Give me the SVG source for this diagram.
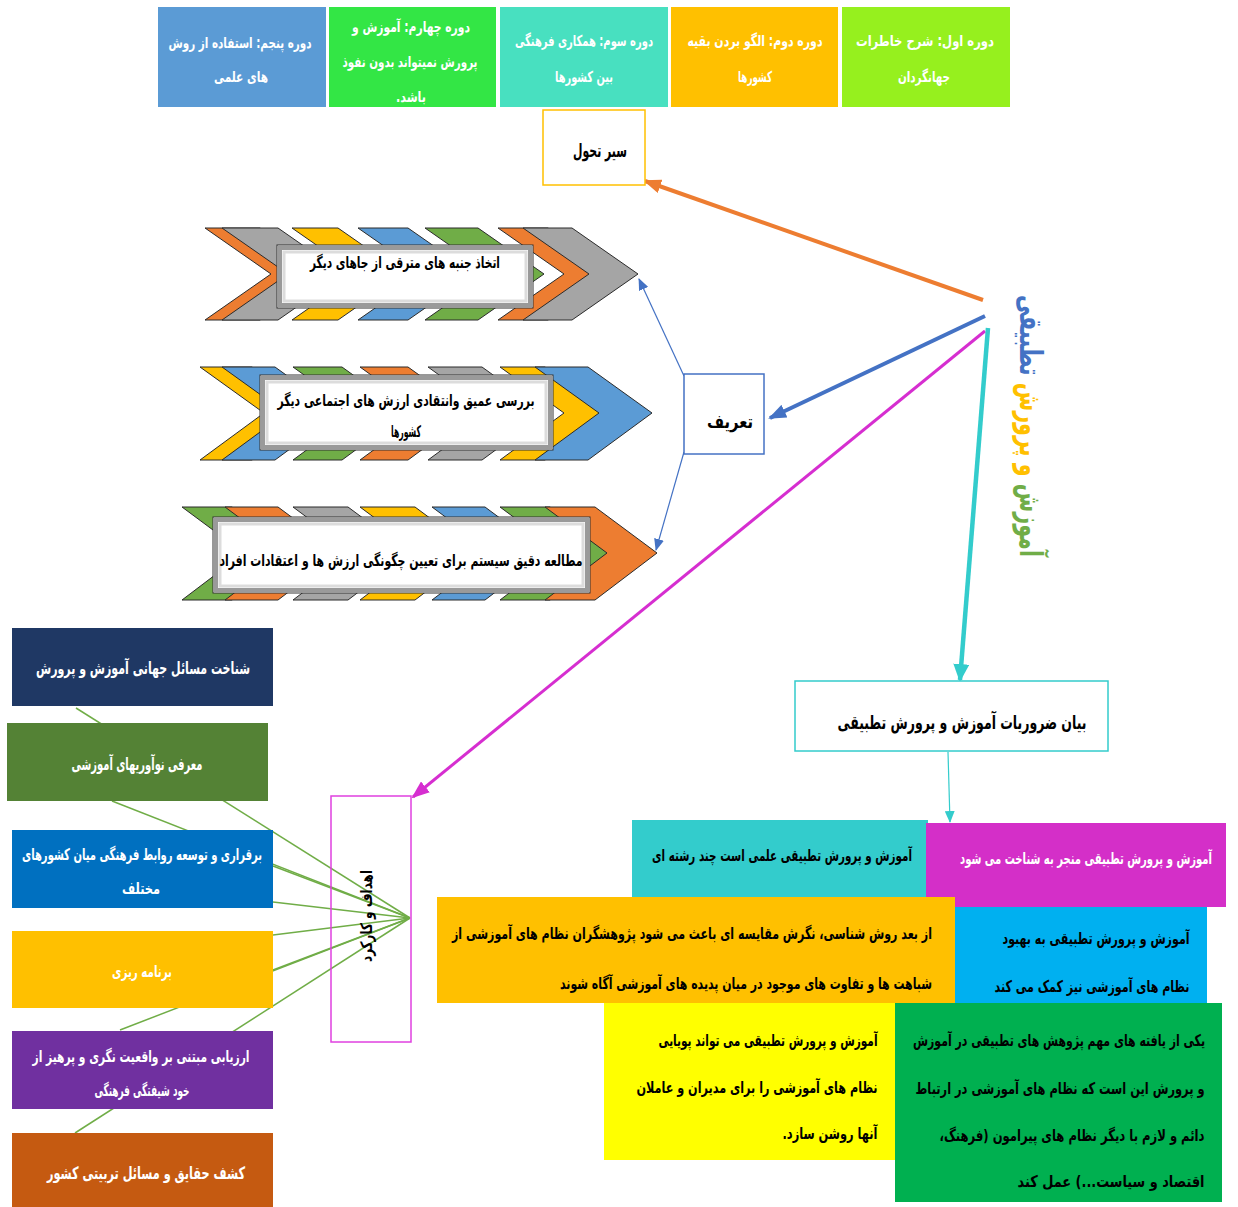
<svg xmlns="http://www.w3.org/2000/svg" width="1238" height="1207" viewBox="0 0 1238 1207">
<style>
text{font-family:"DejaVu Sans","Noto Sans",sans-serif;font-weight:bold;text-anchor:middle;direction:rtl}
.w{fill:#fff}
.k{fill:#000}
.band{stroke:#2b2b2b;stroke-width:1}
.og{fill:#ED7D31}.gy{fill:#A5A5A5}.yl{fill:#FFC000}.bl{fill:#5B9BD5}.gr{fill:#70AD47}
.gl{stroke:#70AD47;stroke-width:1.5;fill:none}
</style>
<defs>
<marker id="mo" markerUnits="userSpaceOnUse" markerWidth="18" markerHeight="14" refX="16" refY="7" orient="auto"><path d="M0,0 L18,7 L0,14 z" fill="#ED7D31"/></marker>
<marker id="mb" markerUnits="userSpaceOnUse" markerWidth="18" markerHeight="14" refX="16" refY="7" orient="auto"><path d="M0,0 L18,7 L0,14 z" fill="#4472C4"/></marker>
<marker id="mm" markerUnits="userSpaceOnUse" markerWidth="18" markerHeight="14" refX="16" refY="7" orient="auto"><path d="M0,0 L18,7 L0,14 z" fill="#D62ED0"/></marker>
<marker id="mt" markerUnits="userSpaceOnUse" markerWidth="18" markerHeight="16" refX="16" refY="8" orient="auto"><path d="M0,0 L18,8 L0,16 z" fill="#33CCCC"/></marker>
<marker id="mbs" markerUnits="userSpaceOnUse" markerWidth="12" markerHeight="10" refX="11" refY="5" orient="auto"><path d="M0,0 L12,5 L0,10 z" fill="#4472C4"/></marker>
<marker id="mts" markerUnits="userSpaceOnUse" markerWidth="12" markerHeight="10" refX="11" refY="5" orient="auto"><path d="M0,0 L12,5 L0,10 z" fill="#33CCCC"/></marker>
</defs>

<g id="connectors">
<line x1="983" y1="300" x2="645" y2="181" stroke="#ED7D31" stroke-width="4" marker-end="url(#mo)"/>
<line x1="985" y1="316" x2="770" y2="418" stroke="#4472C4" stroke-width="4" marker-end="url(#mb)"/>
<line x1="985" y1="331" x2="413" y2="797" stroke="#D62ED0" stroke-width="3" marker-end="url(#mm)"/>
<line x1="988" y1="328" x2="960" y2="680" stroke="#33CCCC" stroke-width="4.5" marker-end="url(#mt)"/>
<line x1="684" y1="376" x2="639" y2="279" stroke="#4472C4" stroke-width="1.2" marker-end="url(#mbs)"/>
<line x1="684" y1="452" x2="656" y2="550" stroke="#4472C4" stroke-width="1.2" marker-end="url(#mbs)"/>
<line x1="948" y1="752" x2="950" y2="822" stroke="#33CCCC" stroke-width="1.2" marker-end="url(#mts)"/>
<line class="gl" x1="410" y1="918" x2="76" y2="708"/>
<line class="gl" x1="410" y1="918" x2="112" y2="801"/>
<line class="gl" x1="410" y1="918" x2="273" y2="866"/>
<line class="gl" x1="410" y1="918" x2="273" y2="902"/>
<line class="gl" x1="410" y1="918" x2="273" y2="935"/>
<line class="gl" x1="410" y1="918" x2="273" y2="970"/>
<line class="gl" x1="410" y1="918" x2="120" y2="1030"/>
<line class="gl" x1="410" y1="918" x2="75" y2="1133"/>
</g>

<g id="period5"><rect x="158" y="7" width="168" height="100" fill="#5B9BD5"/>
<text class="w" font-size="15" x="240" y="48" textLength="143" lengthAdjust="spacingAndGlyphs">دوره پنجم: استفاده از روش</text>
<text class="w" font-size="15" x="241" y="82" textLength="54" lengthAdjust="spacingAndGlyphs">های علمی</text></g>
<g id="period4"><rect x="329" y="7" width="167" height="100" fill="#33E645"/>
<text class="w" font-size="15" x="411" y="32" textLength="118" lengthAdjust="spacingAndGlyphs">دوره چهارم: آموزش و</text>
<text class="w" font-size="15" x="410" y="67" textLength="135" lengthAdjust="spacingAndGlyphs">پرورش نمیتواند بدون نفوذ</text>
<text class="w" font-size="15" x="411" y="102" textLength="30" lengthAdjust="spacingAndGlyphs">باشد.</text></g>
<g id="period3"><rect x="500" y="7" width="168" height="100" fill="#48E0C0"/>
<text class="w" font-size="15" x="584" y="46" textLength="138" lengthAdjust="spacingAndGlyphs">دوره سوم: همکاری فرهنگی</text>
<text class="w" font-size="15" x="584" y="82" textLength="58" lengthAdjust="spacingAndGlyphs">بین کشورها</text></g>
<g id="period2"><rect x="671" y="7" width="167" height="100" fill="#FFC000"/>
<text class="w" font-size="15" x="755" y="46" textLength="135" lengthAdjust="spacingAndGlyphs">دوره دوم: الگو بردن بقیه</text>
<text class="w" font-size="15" x="755" y="82" textLength="34" lengthAdjust="spacingAndGlyphs">کشورها</text></g>
<g id="period1"><rect x="842" y="7" width="168" height="100" fill="#96F01E"/>
<text class="w" font-size="15" x="925" y="46" textLength="138" lengthAdjust="spacingAndGlyphs">دوره اول: شرح خاطرات</text>
<text class="w" font-size="15" x="924" y="82" textLength="52" lengthAdjust="spacingAndGlyphs">جهانگردان</text></g>

<g id="seir"><rect x="543" y="110" width="102" height="75" fill="#fff" stroke="#FFC000" stroke-width="1.5"/>
<text class="k" font-size="19" x="600" y="157" textLength="54" lengthAdjust="spacingAndGlyphs">سیر تحول</text></g>

<g id="title"><text transform="translate(1020,426) rotate(90)" font-size="31" textLength="262" lengthAdjust="spacingAndGlyphs"><tspan fill="#70AD47">آموزش</tspan><tspan fill="#FFC000"> و پرورش</tspan><tspan fill="#4472C4"> تطبیقی</tspan></text></g>

<g id="tarif"><rect x="684" y="374" width="80" height="80" fill="#fff" stroke="#4472C4" stroke-width="1.5"/>
<text class="k" font-size="18" x="730" y="428" textLength="46" lengthAdjust="spacingAndGlyphs">تعریف</text></g>

<g id="chevron1">
<polygon class="band og" points="205,228 260,228 326,274 260,320 205,320 271,274"/>
<polygon class="band gy" points="222,228 278,228 344,274 278,320 222,320 288,274"/>
<polygon class="band yl" points="292,228 338,228 404,274 338,320 292,320 358,274"/>
<polygon class="band bl" points="358,228 408,228 474,274 408,320 358,320 424,274"/>
<polygon class="band gr" points="425,228 478,228 544,274 478,320 425,320 491,274"/>
<polygon class="band og" points="498,228 548,228 614,274 548,320 498,320 564,274"/>
<polygon class="band gy" points="523,228 572,228 638,274 572,320 523,320 589,274"/>
<rect x="277" y="245" width="256" height="63" fill="#fff" stroke="#333" stroke-width="1"/>
<rect x="280" y="248" width="250" height="57" fill="none" stroke="#9a9a9a" stroke-width="4"/>
<rect x="284" y="252" width="242" height="49" fill="none" stroke="#dcdcdc" stroke-width="3"/>
<text class="k" font-size="16" x="405" y="268" textLength="190" lengthAdjust="spacingAndGlyphs">اتخاذ جنبه های مترقی از جاهای دیگر</text>
</g>

<g id="chevron2">
<polygon class="band yl" points="200,367 252,367 316,413 252,460 200,460 264,413"/>
<polygon class="band bl" points="222,367 275,367 339,413 275,460 222,460 286,413"/>
<polygon class="band gr" points="293,367 342,367 406,413 342,460 293,460 357,413"/>
<polygon class="band og" points="360,367 408,367 472,413 408,460 360,460 424,413"/>
<polygon class="band gy" points="428,367 482,367 546,413 482,460 428,460 492,413"/>
<polygon class="band yl" points="500,367 545,367 609,413 545,460 500,460 564,413"/>
<polygon class="band bl" points="535,367 588,367 652,413 588,460 535,460 599,413"/>
<rect x="260" y="375" width="293" height="75" fill="#fff" stroke="#333" stroke-width="1"/>
<rect x="263" y="378" width="287" height="69" fill="none" stroke="#9a9a9a" stroke-width="4"/>
<rect x="267" y="382" width="279" height="61" fill="none" stroke="#dcdcdc" stroke-width="3"/>
<text class="k" font-size="16" x="406" y="406" textLength="257" lengthAdjust="spacingAndGlyphs">بررسی عمیق وانتقادی ارزش های اجتماعی دیگر</text>
<text class="k" font-size="16" x="406" y="437" textLength="30" lengthAdjust="spacingAndGlyphs">کشورها</text>
</g>

<g id="chevron3">
<polygon class="band gr" points="182,507 232,507 294,553 232,600 182,600 244,553"/>
<polygon class="band og" points="225,507 278,507 340,553 278,600 225,600 287,553"/>
<polygon class="band gy" points="293,507 348,507 410,553 348,600 293,600 355,553"/>
<polygon class="band yl" points="360,507 415,507 477,553 415,600 360,600 422,553"/>
<polygon class="band bl" points="432,507 485,507 547,553 485,600 432,600 494,553"/>
<polygon class="band gr" points="500,507 550,507 612,553 550,600 500,600 562,553"/>
<polygon class="band og" points="545,507 595,507 657,553 595,600 545,600 607,553"/>
<rect x="213" y="517" width="377" height="76" fill="#fff" stroke="#333" stroke-width="1"/>
<rect x="216" y="520" width="371" height="70" fill="none" stroke="#9a9a9a" stroke-width="4"/>
<rect x="220" y="524" width="363" height="62" fill="none" stroke="#dcdcdc" stroke-width="3"/>
<text class="k" font-size="16" x="401" y="566" textLength="363" lengthAdjust="spacingAndGlyphs">مطالعه دقیق سیستم برای تعیین چگونگی ارزش ها و اعتقادات افراد</text>
</g>

<g id="goal1"><rect x="12" y="628" width="261" height="78" fill="#1F3864"/>
<text class="w" font-size="17" x="143" y="674" textLength="214" lengthAdjust="spacingAndGlyphs">شناخت مسائل جهانی آموزش و پرورش</text></g>
<g id="goal2"><rect x="7" y="723" width="261" height="78" fill="#548235"/>
<text class="w" font-size="17" x="137" y="770" textLength="131" lengthAdjust="spacingAndGlyphs">معرفی نوآوریهای آموزشی</text></g>
<g id="goal3"><rect x="12" y="830" width="261" height="78" fill="#0070C0"/>
<text class="w" font-size="16" x="142" y="860" textLength="240" lengthAdjust="spacingAndGlyphs">برقراری و توسعه روابط فرهنگی میان کشورهای</text>
<text class="w" font-size="16" x="141" y="894" textLength="38" lengthAdjust="spacingAndGlyphs">مختلف</text></g>
<g id="goal4"><rect x="12" y="931" width="261" height="77" fill="#FFC000"/>
<text class="w" font-size="16" x="142" y="977" textLength="60" lengthAdjust="spacingAndGlyphs">برنامه ریزی</text></g>
<g id="goal5"><rect x="12" y="1031" width="261" height="78" fill="#7030A0"/>
<text class="w" font-size="16" x="141" y="1062" textLength="217" lengthAdjust="spacingAndGlyphs">ارزیابی مبتنی بر واقعیت نگری و پرهیز از</text>
<text class="w" font-size="16" x="142" y="1096" textLength="95" lengthAdjust="spacingAndGlyphs">خود شیفتگی فرهنگی</text></g>
<g id="goal6"><rect x="12" y="1133" width="261" height="74" fill="#C55A11"/>
<text class="w" font-size="17" x="146" y="1179" textLength="198" lengthAdjust="spacingAndGlyphs">کشف حقایق و مسائل تربیتی کشور</text></g>

<g id="goals"><rect x="331" y="796" width="80" height="246" fill="none" stroke="#E040E0" stroke-width="1.5"/>
<text transform="translate(372,916) rotate(-90)" class="k" font-size="16" textLength="92" lengthAdjust="spacingAndGlyphs">اهداف و کارکرد</text></g>

<g id="needs"><rect x="795" y="681" width="313" height="70" fill="#fff" stroke="#33CCCC" stroke-width="1.5"/>
<text class="k" font-size="19" x="962" y="729" textLength="249" lengthAdjust="spacingAndGlyphs">بیان ضروریات آموزش و پرورش تطبیقی</text></g>

<g id="n1"><rect x="632" y="820" width="296" height="78" fill="#33CCCC"/>
<text class="k" font-size="16" x="782" y="861" textLength="260" lengthAdjust="spacingAndGlyphs">آموزش و پرورش تطبیقی علمی است چند رشته ای</text></g>
<g id="n2"><rect x="926" y="823" width="300" height="84" fill="#D42FC8"/>
<text class="w" font-size="16" x="1086" y="864" textLength="252" lengthAdjust="spacingAndGlyphs">آموزش و پرورش تطبیقی منجر به شناخت می شود</text></g>
<g id="n3"><rect x="437" y="897" width="518" height="106" fill="#FFC000"/>
<text class="k" font-size="16" x="692" y="939" textLength="480" lengthAdjust="spacingAndGlyphs">از بعد روش شناسی، نگرش مقایسه ای باعث می شود پژوهشگران نظام های آموزشی از</text>
<text class="k" font-size="16" x="746" y="989" textLength="372" lengthAdjust="spacingAndGlyphs">شباهت ها و تفاوت های موجود در میان پدیده های آموزشی آگاه شوند</text></g>
<g id="n4"><rect x="955" y="907" width="252" height="96" fill="#00B0F0"/>
<text class="k" font-size="16" x="1096" y="944" textLength="187" lengthAdjust="spacingAndGlyphs">آموزش و پرورش تطبیقی به بهبود</text>
<text class="k" font-size="16" x="1092" y="992" textLength="195" lengthAdjust="spacingAndGlyphs">نظام های آموزشی نیز کمک می کند</text></g>
<g id="n5"><rect x="604" y="1003" width="291" height="157" fill="#FFFF00"/>
<text class="k" font-size="16" x="768" y="1046" textLength="219" lengthAdjust="spacingAndGlyphs">آموزش و پرورش تطبیقی می تواند پویایی</text>
<text class="k" font-size="16" x="757" y="1093" textLength="241" lengthAdjust="spacingAndGlyphs">نظام های آموزشی را برای مدیران و عاملان</text>
<text class="k" font-size="16" x="830" y="1139" textLength="95" lengthAdjust="spacingAndGlyphs">آنها روشن سازد.</text></g>
<g id="n6"><rect x="895" y="1003" width="327" height="199" fill="#00B050"/>
<text class="k" font-size="16" x="1059" y="1046" textLength="292" lengthAdjust="spacingAndGlyphs">یکی از یافته های مهم پژوهش های تطبیقی در آموزش</text>
<text class="k" font-size="16" x="1060" y="1094" textLength="289" lengthAdjust="spacingAndGlyphs">و پرورش این است که نظام های آموزشی در ارتباط</text>
<text class="k" font-size="16" x="1072" y="1141" textLength="265" lengthAdjust="spacingAndGlyphs">دائم و لازم با دیگر نظام های پیرامون (فرهنگ،</text>
<text class="k" font-size="16" x="1111" y="1187" textLength="187" lengthAdjust="spacingAndGlyphs">اقتصاد و سیاست...) عمل کند</text></g>
</svg>
